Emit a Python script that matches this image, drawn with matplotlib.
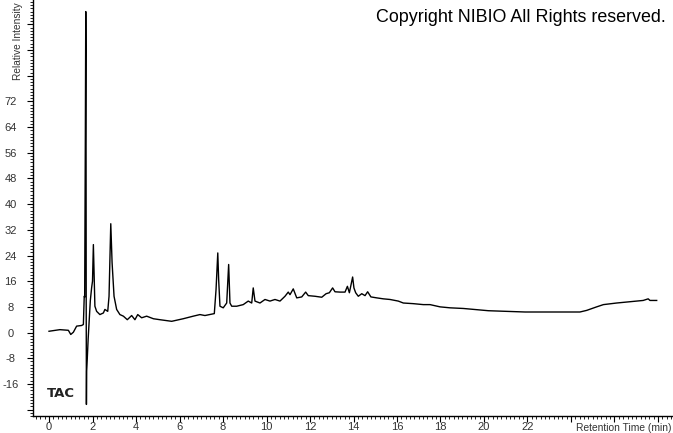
import matplotlib
matplotlib.use("Agg")
import matplotlib.pyplot as plt
from matplotlib.ticker import MultipleLocator, FixedLocator, FuncFormatter

plt.rcParams['font.family'] = ['Liberation Sans', 'DejaVu Sans']

# chromatogram trace (retention time in min, relative intensity)
rt = [0.0, 0.5, 0.89, 1.0, 1.12, 1.27, 1.5, 1.58, 1.62, 1.64, 1.67, 1.69, 1.70, 1.71,
      1.72, 1.73, 1.76, 1.80, 1.85, 1.90, 1.96, 2.0, 2.04, 2.11, 2.19, 2.34, 2.5, 2.57,
      2.7, 2.76, 2.8, 2.84, 2.9, 2.99, 3.11, 3.26, 3.42, 3.6, 3.8, 3.95, 4.08, 4.26,
      4.49, 4.8, 5.1, 5.64, 6.17, 6.63, 6.94, 7.17, 7.6, 7.68, 7.76, 7.8, 7.86, 8.01,
      8.17, 8.26, 8.32, 8.4, 8.63, 8.93, 9.16, 9.32, 9.39, 9.47, 9.7, 9.93, 10.16,
      10.39, 10.62, 10.85, 11.0, 11.08, 11.23, 11.39, 11.62, 11.8, 11.92, 12.23, 12.54,
      12.74, 12.89, 13.04, 13.15, 13.38, 13.61, 13.72, 13.81, 13.89, 13.96, 14.02,
      14.1, 14.22, 14.38, 14.53, 14.65, 14.8, 15.07, 15.37, 15.68, 16.06, 16.29, 16.75,
      17.21, 17.52, 17.98, 18.44, 19.05, 20.2, 21.04, 21.89, 22.88, 24.41, 24.72,
      25.18, 25.49, 26.1, 26.71, 27.32, 27.55, 27.63, 27.94]
intensity = [0.4, 0.9, 0.7, -0.6, 0.1, 2.0, 2.2, 2.5, 11.3, 11.0, 60, 100, 88, 10,
             -22.4, -12, -8, -2, 4, 10, 14, 16, 27.4, 8.2, 6.6, 5.6, 6.1, 7.2,
             6.6, 11.3, 22.7, 33.9, 21.8, 11.3, 7.2, 5.6, 5.1, 4.0, 5.3, 4.0, 5.6, 4.6,
             5.1, 4.3, 4.0, 3.5, 4.3, 5.1, 5.6, 5.3, 5.9, 13.4, 24.8, 16.5, 8.2, 7.7,
             9.2, 21.2, 9.2, 8.2, 8.2, 8.7, 9.8, 9.2, 13.9, 9.8, 9.2, 10.3, 9.8,
             10.3, 9.8, 11.3, 12.6, 11.8, 13.6, 10.8, 11.1, 12.6, 11.5, 11.3, 11.0,
             12.1, 12.4, 13.9, 12.7, 12.6, 12.6, 14.4, 12.4, 15.0, 17.3, 13.9,
             12.4, 11.3, 12.1, 11.5, 12.7, 11.1, 10.8, 10.5, 10.3, 9.8, 9.2, 9.0,
             8.7, 8.7, 8.0, 7.7, 7.5, 6.8, 6.6, 6.4, 6.4, 6.4, 6.9,
             8.0, 8.7, 9.2, 9.6, 10.0, 10.5, 10.0, 10.0]

fig = plt.figure(figsize=(6.73, 4.33), dpi=100)
ax = fig.add_axes([33/673, 17/433, 640/673, 416/433])

ax.plot(rt, intensity, color='black', lw=1.0)

ax.set_xlim(-0.736, 28.69)
ax.set_ylim(-26.0, 103.6)

for side in ['top', 'right']:
    ax.spines[side].set_visible(False)
for side in ['left', 'bottom']:
    ax.spines[side].set_linewidth(1.0)

ax.xaxis.set_major_locator(FixedLocator(range(0, 29, 2)))
ax.xaxis.set_minor_locator(MultipleLocator(0.2))
ax.yaxis.set_major_locator(FixedLocator(range(-24, 100, 8)))
ax.yaxis.set_minor_locator(MultipleLocator(1))
ax.xaxis.set_major_formatter(FuncFormatter(lambda v, p: f"{int(v)}" if v <= 22 else ""))
ax.yaxis.set_major_formatter(FuncFormatter(lambda v, p: f"{int(v)}" if -16 <= v <= 72 else ""))

ax.tick_params(axis='both', which='major', direction='out', length=4, width=0.8,
               labelsize=8, labelcolor='#333333')
ax.tick_params(axis='both', which='minor', direction='out', length=2, width=0.6)
ax.tick_params(axis='x', which='major', pad=0)
ax.tick_params(axis='y', which='major', pad=12)
for lbl in ax.get_yticklabels():
    lbl.set_horizontalalignment('center')

fig.text(376/673, 1 - 22/433, 'Copyright NIBIO All Rights reserved.', fontsize=12.9,
         ha='left', va='baseline', color='black')
fig.text(47/673, 1 - 397/433, 'TAC', fontsize=9.5, fontweight='bold',
         family='DejaVu Sans', ha='left', va='baseline', color='#222222')
fig.text(672/673, 1 - 428/433, 'Retention Time (min)', fontsize=7.4, ha='right',
         va='center', color='#333333')
fig.text(18/673, 1 - 80/433, 'Relative Intensity', fontsize=7.3, rotation=90,
         ha='center', va='bottom', color='#333333')

fig.savefig('out.png', dpi=100)
